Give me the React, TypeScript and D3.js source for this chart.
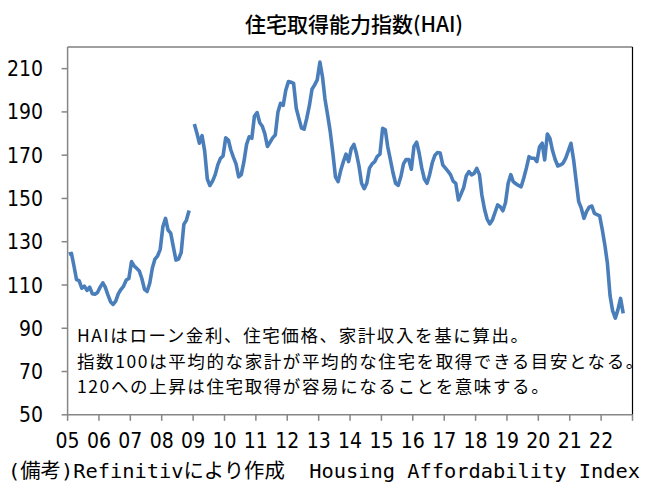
import * as d3 from "d3"
import React from "react"

// monthly HAI readings, Jan 2005 - Nov 2008 (Dec 2008 missing in the source)
const hai2005to2008 = [
  124.3, 124.6, 119, 112.5, 112, 108.5, 109.5, 107.5, 109, 106, 105.7, 106.5,
  109, 111, 109, 105.4, 102.3, 101, 102.5, 106, 108, 109.5, 112.3, 113,
  120.8, 118.8, 117.7, 116.5, 113, 108, 107, 110.8, 118, 122, 123.5, 126.5,
  137, 140.8, 135.4, 134, 127.7, 121.5, 122, 125, 138, 140, 144.4,
]
// Jan 2009 - Sep 2022
const hai2009to2022 = [
  184.4, 180, 175.5, 179, 172, 159, 156, 158, 161, 165.5, 168.5, 169.6,
  178, 177, 172.5, 169, 166, 160, 161, 167, 175, 178.5, 177.8, 188,
  189.7, 185, 183.5, 180, 174, 176, 178, 179.3, 190, 194, 193, 200,
  204, 203.7, 203.2, 191.7, 187, 182.5, 182, 187, 193, 200.5, 202.5, 204.8,
  213, 206, 196, 188.6, 181, 171, 160, 157.8, 163, 167, 170.5, 167,
  173, 175, 171, 165, 157, 154.5, 157, 164, 166, 167, 169.5, 170.5,
  182.4, 181.7, 174, 168, 162, 157, 156, 160, 166, 168, 168, 163.5,
  174, 176, 171, 164, 159, 157, 161, 166.5, 170, 171.2, 171, 165.5,
  164, 162.5, 161, 158, 157, 149.3, 152, 155, 160.5, 162.4, 160.9, 161.6,
  163.9, 161, 151.6, 145, 140.5, 138.2, 140, 143.5, 147, 146.2, 144.3, 148,
  157, 161, 157.8, 156.8, 156, 155.4, 159.3, 164, 169.3, 168.6, 168.6, 167,
  173.9, 175.5, 167.8, 179.8, 177.8, 172, 168, 165, 165.5, 166.3, 168.6, 172,
  175.5, 167.8, 158.5, 148.5, 145.5, 140.8, 143.9, 146, 146.5, 143.1, 142.5, 141.9,
  135.4, 128, 120, 105, 98, 94.7, 98.5, 103.8, 96.9,
]
const yTicks = [50, 70, 90, 110, 130, 150, 170, 190, 210]
const yearLabels = ["05", "06", "07", "08", "09", "10", "11", "12", "13", "14", "15", "16", "17", "18", "19", "20", "21", "22"]
const title = "住宅取得能力指数(HAI)"
const notes = [
  "HAIはローン金利、住宅価格、家計収入を基に算出。",
  "指数100は平均的な家計が平均的な住宅を取得できる目安となる。",
  "120への上昇は住宅取得が容易になることを意味する。",
]
const footer = "(備考)Refinitivにより作成  Housing Affordability Index"

const W = 671, H = 501
const left = 67.6, right = 632.5, top = 47, bottom = 414.8
const tickFont = "'Liberation Sans Narrow', 'DejaVu Sans Condensed', sans-serif"
const jpFont = "'Noto Sans CJK JP', sans-serif"

export default function App() {
  const series = [...hai2005to2008, null, ...hai2009to2022]
  const data = series.map((v, i) => ({ date: new Date(2005, i, 15), v }))

  const x = d3.scaleTime().domain([new Date(2005, 0, 1), new Date(2023, 0, 1)]).range([left, right])
  const y = d3.scaleLinear().domain([50, 220]).range([bottom, top])
  const years = d3.range(2005, 2024).map(yr => new Date(yr, 0, 1))

  const line = d3.line<{ date: Date; v: number | null }>()
    .defined(d => d.v != null)
    .x(d => x(d.date))
    .y(d => y(d.v as number))(data)

  return (
    <svg width={W} height={H} style={{ position: "absolute", left: 0, top: 0, background: "#fff" }}>
      <rect width={W} height={H} fill="#fff" />
      <text x={354} y={32} textAnchor="middle" fontFamily={jpFont} fontSize={21} fontWeight={500} fill="#000">{title}</text>

      {/* frame: top and right dark, left/bottom axes gray */}
      <line x1={left} y1={top} x2={right} y2={top} stroke="#404040" strokeWidth={1.2} />
      <line x1={right} y1={top} x2={right} y2={bottom} stroke="#000" strokeWidth={1.2} />

      {yTicks.map(t => (
        <g key={t}>
          <line x1={left - 6} x2={left} y1={y(t)} y2={y(t)} stroke="#868686" strokeWidth={1.5} />
          <text x={43} y={y(t)} dy="0.36em" textAnchor="end" fontFamily={tickFont} fontSize={21} fill="#000">{t}</text>
        </g>
      ))}
      {years.map((d, i) => (
        <g key={i}>
          <line x1={x(d)} x2={x(d)} y1={bottom} y2={bottom + 6} stroke="#868686" strokeWidth={1.5} />
          {i < yearLabels.length && (
            <text x={x(d)} y={448} textAnchor="middle" fontFamily={tickFont} fontSize={21} fill="#000">{yearLabels[i]}</text>
          )}
        </g>
      ))}
      <line x1={left} y1={top} x2={left} y2={bottom} stroke="#868686" strokeWidth={1.5} />
      <line x1={left} y1={bottom} x2={right} y2={bottom} stroke="#868686" strokeWidth={1.5} />

      <path d={line || ""} fill="none" stroke="#4a7ebb" strokeWidth={3.6} strokeLinejoin="round" />

      {notes.map((n, i) => (
        <text key={i} x={77} y={342 + i * 25.5} fontFamily={jpFont} fontSize={17.5} letterSpacing={1.6} fill="#000">{n}</text>
      ))}

      <text x={8} y={478} fontFamily={"'DejaVu Sans Mono', " + jpFont} fontSize={20} fill="#000"
        style={{ whiteSpace: "pre" }} textLength={632} lengthAdjust="spacingAndGlyphs">{footer}</text>
    </svg>
  )
}
